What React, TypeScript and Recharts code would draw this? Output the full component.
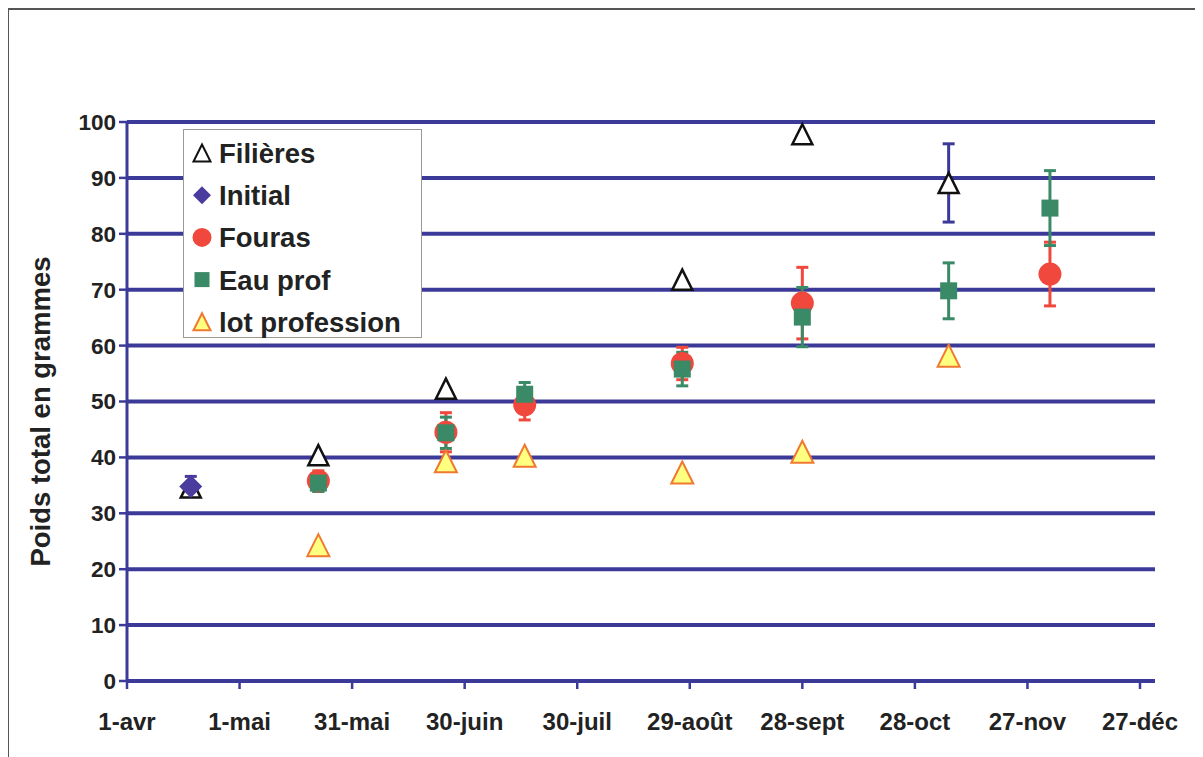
import React from 'react';
import { ScatterChart, Scatter, XAxis, YAxis, CartesianGrid, ErrorBar } from 'recharts';

// Days counted from 1-avr
const xTickDays = [0, 30, 60, 90, 120, 150, 180, 210, 240, 270];
const xTickLabels = ['1-avr', '1-mai', '31-mai', '30-juin', '30-juil', '29-août', '28-sept', '28-oct', '27-nov', '27-déc'];
const yTicks = [0, 10, 20, 30, 40, 50, 60, 70, 80, 90, 100];

const filieresDays = [17, 51, 85, 148, 180, 219];
const filieresValues = [34.6, 40.4, 52.3, 71.8, 97.8, 89.1];
const filieresErr = [0, 0, 0, 0, 0, 7];

const initialDays = [17];
const initialValues = [34.8];
const initialErr = [1.8];

const fourasDays = [51, 85, 106, 148, 180, 246];
const fourasValues = [35.8, 44.5, 49.4, 56.8, 67.6, 72.8];
const fourasErr = [1.8, 3.5, 2.7, 2.9, 6.4, 5.7];

const eauDays = [51, 85, 106, 148, 180, 219, 246];
const eauValues = [35.4, 44.4, 51.3, 55.8, 65.1, 69.8, 84.6];
const eauErr = [1.5, 2.8, 2.1, 3.0, 5.3, 5.0, 6.7];

const lotDays = [51, 85, 106, 148, 180, 219];
const lotValues = [24.3, 39.3, 40.3, 37.3, 41.0, 58.2];

const legendNames = ['Filières', 'Initial', 'Fouras', 'Eau prof', 'lot profession'];

const build = (days: number[], vals: number[], errs?: number[]) =>
  days.map((d, i) => ({ x: d, y: vals[i], err: errs ? errs[i] : 0 }));

const filieresData = build(filieresDays, filieresValues, filieresErr);
const initialData = build(initialDays, initialValues, initialErr);
const fourasData = build(fourasDays, fourasValues, fourasErr);
const eauData = build(eauDays, eauValues, eauErr);
const lotData = build(lotDays, lotValues);

const BLUE = '#3c3a98';
const PURPLE = '#4a3c9e';
const RED = '#f0483c';
const GREEN = '#3a8a68';
const FONT = '"Liberation Sans", Arial, sans-serif';

const Tri = ({ cx, cy, s, fill, stroke, sw }: any) => (
  <polygon
    points={`${cx},${cy - s / 2} ${cx + s / 2},${cy + s / 2} ${cx - s / 2},${cy + s / 2}`}
    fill={fill}
    stroke={stroke}
    strokeWidth={sw}
    strokeLinejoin="miter"
  />
);
const Dia = ({ cx, cy, s, fill }: any) => (
  <polygon points={`${cx},${cy - s / 2} ${cx + s / 2},${cy} ${cx},${cy + s / 2} ${cx - s / 2},${cy}`} fill={fill} />
);
const Sq = ({ cx, cy, s, fill }: any) => <rect x={cx - s / 2} y={cy - s / 2} width={s} height={s} fill={fill} />;
const Circ = ({ cx, cy, s, fill }: any) => <circle cx={cx} cy={cy} r={s / 2} fill={fill} />;

const legendMarkers = [
  (cx: number, cy: number) => <Tri cx={cx} cy={cy} s={17} fill="#fff" stroke="#111" sw={2} />,
  (cx: number, cy: number) => <Dia cx={cx} cy={cy} s={18} fill={PURPLE} />,
  (cx: number, cy: number) => <Circ cx={cx} cy={cy} s={19} fill={RED} />,
  (cx: number, cy: number) => <Sq cx={cx} cy={cy} s={15} fill={GREEN} />,
  (cx: number, cy: number) => <Tri cx={cx} cy={cy} s={17} fill="#ffff80" stroke="#f07830" sw={2} />,
];

const CustomLegend = () => (
  <div
    style={{
      position: 'absolute',
      left: 175,
      top: 121,
      width: 239,
      height: 209,
      border: '1.5px solid #999',
      background: '#fff',
      boxSizing: 'border-box',
    }}
  >
    <svg width={239} height={209} style={{ position: 'absolute', left: -1.5, top: -1.5 }}>
      {legendNames.map((n, i) => {
        const cy = 24 + i * 42.2;
        return (
          <g key={n}>
            {legendMarkers[i](19, cy)}
            <text x={36} y={cy + 10} fontFamily={FONT} fontWeight="bold" fontSize={27.5} fill="#222">
              {n}
            </text>
          </g>
        );
      })}
    </svg>
  </div>
);

const YLabel = ({ viewBox }: any) => {
  const x = 32;
  const y = viewBox.y + viewBox.height / 2 + 10;
  return (
    <text
      x={x}
      y={y}
      transform={`rotate(-90 ${x} ${y})`}
      textAnchor="middle"
      dominantBaseline="central"
      fontFamily={FONT}
      fontWeight="bold"
      fontSize={27.5}
      fill="#222"
    >
      Poids total en grammes
    </text>
  );
};

export default function App() {
  return (
    <div style={{ position: 'relative', width: 1195, height: 749, background: '#fff' }}>
      <div
        style={{
          position: 'absolute',
          left: -1,
          top: 0,
          width: 1196,
          height: 749,
          borderLeft: '2px solid #555',
          borderTop: '2px solid #555',
          boxSizing: 'border-box',
        }}
      />
      <ScatterChart width={1195} height={749} margin={{ top: 114, right: 48, bottom: 36, left: 0 }}>
        <CartesianGrid vertical={false} stroke={BLUE} strokeWidth={4} />
        <XAxis
          type="number"
          dataKey="x"
          domain={[0, 274]}
          ticks={xTickDays}
          interval={0}
          allowDataOverflow
          tickFormatter={(v: number) => xTickLabels[xTickDays.indexOf(v)] ?? ''}
          axisLine={{ stroke: BLUE, strokeWidth: 4 }}
          tickLine={{ stroke: BLUE, strokeWidth: 2.5 }}
          tickSize={8}
          tickMargin={24}
          height={40}
          tick={{ fontFamily: FONT, fontWeight: 'bold', fontSize: 24, fill: '#222' }}
        />
        <YAxis
          type="number"
          dataKey="y"
          domain={[0, 100]}
          ticks={yTicks}
          interval={0}
          width={119}
          axisLine={{ stroke: BLUE, strokeWidth: 3 }}
          tickLine={{ stroke: BLUE, strokeWidth: 2.5 }}
          tickSize={8}
          tickMargin={3}
          tick={{ fontFamily: FONT, fontWeight: 'bold', fontSize: 22.5, fill: '#222' }}
          label={<YLabel />}
        />
        <Scatter
          name="Fouras"
          data={fourasData}
          isAnimationActive={false}
          shape={(p: any) => <Circ cx={p.cx} cy={p.cy} s={23} fill={RED} />}
        >
          <ErrorBar dataKey="err" direction="y" width={6} strokeWidth={3} stroke={RED} />
        </Scatter>
        <Scatter
          name="Eau prof"
          data={eauData}
          isAnimationActive={false}
          shape={(p: any) => <Sq cx={p.cx} cy={p.cy} s={17} fill={GREEN} />}
        >
          <ErrorBar dataKey="err" direction="y" width={6} strokeWidth={3} stroke={GREEN} />
        </Scatter>
        <Scatter
          name="lot profession"
          data={lotData}
          isAnimationActive={false}
          shape={(p: any) => <Tri cx={p.cx} cy={p.cy} s={22} fill="#ffff80" stroke="#f07830" sw={2} />}
        />
        <Scatter
          name="Filières"
          data={filieresData}
          isAnimationActive={false}
          shape={(p: any) => <Tri cx={p.cx} cy={p.cy} s={20} fill="#fff" stroke="#111" sw={2.5} />}
        >
          <ErrorBar dataKey="err" direction="y" width={6} strokeWidth={3} stroke={BLUE} />
        </Scatter>
        <Scatter
          name="Initial"
          data={initialData}
          isAnimationActive={false}
          shape={(p: any) => <Dia cx={p.cx} cy={p.cy} s={23} fill={PURPLE} />}
        >
          <ErrorBar dataKey="err" direction="y" width={6} strokeWidth={3} stroke={PURPLE} />
        </Scatter>
      </ScatterChart>
      <CustomLegend />
    </div>
  );
}
